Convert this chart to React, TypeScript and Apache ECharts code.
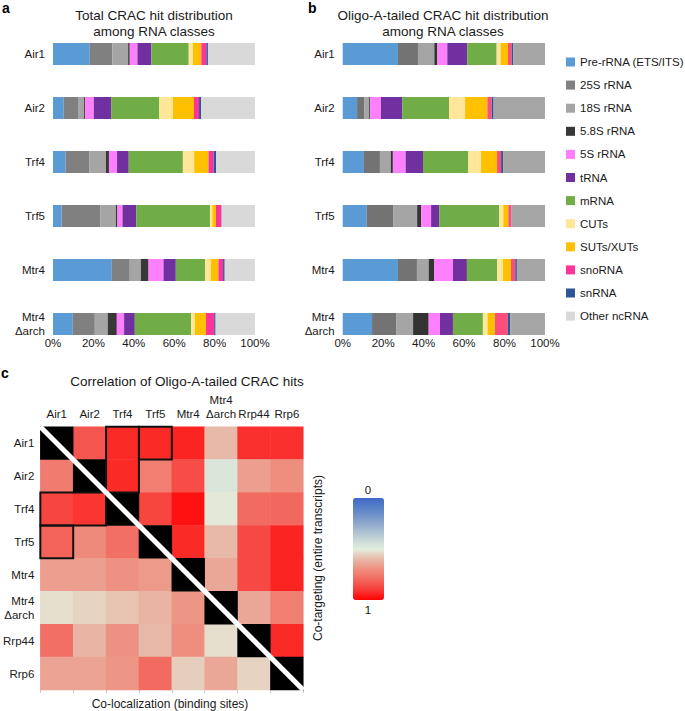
import React, { useEffect, useRef } from "react";
import * as echarts from "echarts";

const FONT = "'Liberation Sans', Arial, Helvetica, sans-serif";

const SAMPLES = ["Air1", "Air2", "Trf4", "Trf5", "Mtr4", "Mtr4\nΔarch"];
const RNA_CLASSES = [
  "Pre-rRNA (ETS/ITS)", "25S rRNA", "18S rRNA", "5.8S rRNA", "5S rRNA", "tRNA",
  "mRNA", "CUTs", "SUTs/XUTs", "snoRNA", "snRNA", "Other ncRNA",
];
const COLORS_A = ["#5B9BD5", "#808080", "#A5A5A5", "#383838", "#FF80FF", "#7030A0", "#70AD47", "#FFE699", "#FFC000", "#FF3399", "#2F5597", "#D9D9D9"];
const COLORS_B = ["#5B9BD5", "#737373", "#A5A5A5", "#333333", "#FF80FF", "#7030A0", "#70AD47", "#FFE699", "#FFC000", "#FF4D7A", "#2F5597", "#A6A6A6"];

// Panel a: total CRAC hit distribution (%), in RNA_CLASSES order
const totalAir1 = [18.2, 11.2, 7.8, 0.8, 3.8, 6.9, 18.5, 2.1, 4.1, 2.5, 0.8, 23.3];
const totalAir2 = [5.3, 7.1, 3.0, 0.5, 4.3, 8.6, 23.8, 6.8, 10.4, 2.5, 1.0, 26.7];
const totalTrf4 = [6.3, 11.6, 8.3, 1.5, 4.0, 5.8, 26.8, 5.6, 7.1, 2.5, 1.2, 19.3];
const totalTrf5 = [4.3, 19.2, 7.6, 0.8, 2.5, 6.8, 36.5, 1.2, 1.8, 2.6, 0.2, 16.5];
const totalMtr4 = [29.1, 8.9, 5.5, 3.8, 7.4, 6.1, 14.5, 2.8, 3.8, 2.3, 0.8, 15.0];
const totalMtr4Darch = [9.8, 10.9, 6.4, 4.5, 3.6, 5.3, 27.9, 1.8, 5.5, 4.1, 0.7, 19.5];

// Panel b: oligo-A-tailed CRAC hit distribution (%)
const oligoAir1 = [27.3, 9.9, 8.1, 1.5, 4.9, 9.9, 14.5, 2.0, 3.6, 1.8, 0.8, 15.7];
const oligoAir2 = [7.1, 3.5, 2.5, 0.5, 5.3, 10.5, 23.2, 7.9, 11.0, 2.1, 1.0, 25.4];
const oligoTrf4 = [10.5, 7.9, 5.4, 1.0, 6.3, 8.6, 22.4, 6.3, 7.9, 2.0, 1.0, 20.7];
const oligoTrf5 = [11.9, 13.0, 11.9, 2.0, 4.9, 4.0, 29.7, 2.0, 2.5, 1.5, 0.1, 16.5];
const oligoMtr4 = [27.3, 9.4, 5.8, 2.8, 9.2, 6.9, 15.0, 2.8, 4.0, 2.1, 0.8, 13.9];
const oligoMtr4Darch = [14.5, 11.9, 8.4, 7.7, 5.6, 6.4, 14.8, 2.3, 3.6, 6.4, 1.2, 17.2];

const TOTAL_ROWS = [totalAir1, totalAir2, totalTrf4, totalTrf5, totalMtr4, totalMtr4Darch];
const OLIGO_ROWS = [oligoAir1, oligoAir2, oligoTrf4, oligoTrf5, oligoMtr4, oligoMtr4Darch];

// Panel c: correlation heatmap (null = diagonal)
const HM_LABELS = ["Air1", "Air2", "Trf4", "Trf5", "Mtr4", "Mtr4\nΔarch", "Rrp44", "Rrp6"];
const corrAir1 = [null, 0.84, 0.93, 0.93, 0.94, 0.6, 0.92, 0.92];
const corrAir2 = [0.75, null, 0.93, 0.74, 0.86, 0.47, 0.66, 0.7];
const corrTrf4 = [0.88, 0.91, null, 0.88, 0.97, 0.51, 0.79, 0.8];
const corrTrf5 = [0.81, 0.71, 0.78, null, 0.93, 0.6, 0.87, 0.94];
const corrMtr4 = [0.66, 0.66, 0.69, 0.67, null, 0.64, 0.87, 0.94];
const corrMtr4Darch = [0.53, 0.55, 0.58, 0.61, 0.68, null, 0.64, 0.74];
const corrRrp44 = [0.78, 0.61, 0.69, 0.6, 0.7, 0.53, null, 0.93];
const corrRrp6 = [0.65, 0.65, 0.68, 0.79, 0.56, 0.64, 0.55, null];
const CORR_ROWS = [corrAir1, corrAir2, corrTrf4, corrTrf5, corrMtr4, corrMtr4Darch, corrRrp44, corrRrp6];
// highlighted boxes: [colStart, rowStart, colEnd, rowEnd]
const HIGHLIGHT_BOXES = [[2, 0, 2, 1], [3, 0, 3, 0], [0, 2, 1, 2], [0, 3, 0, 3]];
const CMAP = ["#3F6AC6", "#5A82C8", "#7C9BCB", "#A0B7CF", "#C4D4D5", "#E3EEDC", "#E8B8A8", "#EE8E7E", "#F2675E", "#F83C38", "#FF0000"];

export default function App() {
  const ref = useRef<HTMLDivElement>(null);
  useEffect(() => {
    document.body.style.margin = "0";
    if (!ref.current) return;
    const chart = echarts.init(ref.current, undefined, { renderer: "svg" });

    const txt = { fontFamily: FONT, color: "#1a1a1a" };
    const barSeries: any[] = [];
    RNA_CLASSES.forEach((name, ci) => {
      barSeries.push({
        name, type: "bar", stack: "a", xAxisIndex: 0, yAxisIndex: 0, barWidth: 22,
        itemStyle: { color: COLORS_A[ci] },
        data: TOTAL_ROWS.map((r) => r[ci]),
      });
    });
    RNA_CLASSES.forEach((name, ci) => {
      barSeries.push({
        name, type: "bar", stack: "b", xAxisIndex: 1, yAxisIndex: 1, barWidth: 22,
        itemStyle: { color: COLORS_B[ci] },
        data: OLIGO_ROWS.map((r) => r[ci]),
      });
    });

    const hmData: any[] = [];
    const diagData: any[] = [];
    CORR_ROWS.forEach((row, y) =>
      row.forEach((v, x) => {
        if (v === null) diagData.push([x, y, 1]);
        else hmData.push([x, y, v]);
      })
    );

    const pctAxis = (gi: number) => ({
      gridIndex: gi, type: "value", min: 0, max: 100, interval: 20, offset: -22,
      axisLine: { show: false }, axisTick: { show: false }, splitLine: { show: false },
      axisLabel: { formatter: "{value}%", fontSize: 11.5, margin: 8, ...txt },
    });
    const sampleAxis = (gi: number) => ({
      gridIndex: gi, type: "category", data: SAMPLES, inverse: true,
      axisLine: { show: false }, axisTick: { show: false },
      axisLabel: { fontSize: 11.5, margin: 8, lineHeight: 14, interval: 0, ...txt },
    });

    const hmIndex = barSeries.length;

    chart.setOption({
      animation: false,
      textStyle: { fontFamily: FONT },
      grid: [
        { left: 53, top: 27, width: 202, height: 324 },
        { left: 342.7, top: 27, width: 202.3, height: 324 },
        { left: 36.7, top: 426.7, width: 266.6, height: 263.3 },
      ],
      legend: {
        data: RNA_CLASSES, orient: "vertical", left: 566, top: 56, padding: 0,
        icon: "rect", itemWidth: 9, itemHeight: 9, itemGap: 11.1, selectedMode: false,
        textStyle: { fontSize: 11.5, lineHeight: 12, ...txt, padding: [0, 0, 0, 0] },
      },
      xAxis: [
        pctAxis(0),
        pctAxis(1),
        {
          gridIndex: 2, type: "category", data: HM_LABELS, position: "top",
          axisLine: { show: false }, axisTick: { show: false },
          axisLabel: { fontSize: 11.5, margin: 6, lineHeight: 14, interval: 0, ...txt },
        },
        {
          gridIndex: 2, type: "category", data: HM_LABELS, position: "bottom",
          axisLine: { show: false }, axisLabel: { show: false },
          axisTick: { show: true, length: 3, interval: 0, lineStyle: { color: "#c8c8c8" } },
        },
      ],
      yAxis: [
        sampleAxis(0),
        sampleAxis(1),
        {
          gridIndex: 2, type: "category", data: HM_LABELS, inverse: true,
          axisLine: { show: false }, axisTick: { show: false },
          axisLabel: { fontSize: 11.5, margin: 6, lineHeight: 14, interval: 0, ...txt },
        },
      ],
      visualMap: [
        {
          type: "continuous", min: 0, max: 1, seriesIndex: hmIndex, inverse: true,
          orient: "vertical", left: 353, top: 498, itemWidth: 31, itemHeight: 102,
          padding: 0, calculable: false, hoverLink: false,
          inRange: { color: CMAP },
        },
        {
          type: "continuous", min: 0, max: 1, seriesIndex: hmIndex + 1, show: false,
          inRange: { color: ["#000000", "#000000"] },
        },
      ],
      series: [
        ...barSeries,
        {
          type: "heatmap", xAxisIndex: 2, yAxisIndex: 2, data: hmData,
          emphasis: { disabled: true },
        },
        {
          type: "heatmap", xAxisIndex: 2, yAxisIndex: 2, data: diagData,
          emphasis: { disabled: true },
        },
        {
          type: "custom", xAxisIndex: 2, yAxisIndex: 2, clip: false, z: 5,
          data: HIGHLIGHT_BOXES,
          renderItem: (_p: any, api: any) => {
            const c0 = api.coord([api.value(0), api.value(1)]);
            const c1 = api.coord([api.value(2), api.value(3)]);
            const s = api.size([1, 1]);
            const x0 = Math.min(c0[0], c1[0]) - s[0] / 2;
            const y0 = Math.min(c0[1], c1[1]) - s[1] / 2;
            const x1 = Math.max(c0[0], c1[0]) + s[0] / 2;
            const y1 = Math.max(c0[1], c1[1]) + s[1] / 2;
            return {
              type: "rect",
              shape: { x: x0, y: y0, width: x1 - x0, height: y1 - y0 },
              style: { fill: "none", stroke: "#111", lineWidth: 2 },
            };
          },
        },
        {
          type: "custom", xAxisIndex: 2, yAxisIndex: 2, clip: false, z: 6,
          data: [[0, 0, HM_LABELS.length - 1, HM_LABELS.length - 1]],
          renderItem: (_p: any, api: any) => {
            const c0 = api.coord([api.value(0), api.value(1)]);
            const c1 = api.coord([api.value(2), api.value(3)]);
            const s = api.size([1, 1]);
            return {
              type: "line",
              shape: { x1: c0[0] - s[0] / 2, y1: c0[1] - s[1] / 2, x2: c1[0] + s[0] / 2, y2: c1[1] + s[1] / 2 },
              style: { stroke: "#fff", lineWidth: 5 },
            };
          },
        },
      ],
      graphic: [
        { type: "text", left: 2, top: 1, style: { text: "a", font: `bold 14px ${FONT}`, fill: "#000" } },
        { type: "text", left: 308, top: 1, style: { text: "b", font: `bold 14px ${FONT}`, fill: "#000" } },
        { type: "text", left: 1, top: 366, style: { text: "c", font: `bold 14px ${FONT}`, fill: "#000" } },
        {
          type: "text", x: 154, y: 23,
          style: { text: "Total CRAC hit distribution\namong RNA classes", font: `13.5px ${FONT}`, fill: "#1a1a1a", align: "center", verticalAlign: "middle", lineHeight: 16 },
        },
        {
          type: "text", x: 443, y: 23,
          style: { text: "Oligo-A-tailed CRAC hit distribution\namong RNA classes", font: `13.5px ${FONT}`, fill: "#1a1a1a", align: "center", verticalAlign: "middle", lineHeight: 16 },
        },
        {
          type: "text", x: 187, y: 381,
          style: { text: "Correlation of Oligo-A-tailed CRAC hits", font: `13.5px ${FONT}`, fill: "#1a1a1a", align: "center", verticalAlign: "middle" },
        },
        {
          type: "text", x: 170, y: 704,
          style: { text: "Co-localization (binding sites)", font: `12px ${FONT}`, fill: "#1a1a1a", align: "center", verticalAlign: "middle" },
        },
        {
          type: "text", x: 318, y: 558, rotation: Math.PI / 2,
          style: { text: "Co-targeting (entire transcripts)", font: `12px ${FONT}`, fill: "#1a1a1a", align: "center", verticalAlign: "middle" },
        },
        { type: "text", x: 368, y: 490, style: { text: "0", font: `11.5px ${FONT}`, fill: "#1a1a1a", align: "center", verticalAlign: "middle" } },
        { type: "text", x: 368, y: 610, style: { text: "1", font: `11.5px ${FONT}`, fill: "#1a1a1a", align: "center", verticalAlign: "middle" } },
      ],
    });
    return () => chart.dispose();
  }, []);
  return <div ref={ref} style={{ width: 685, height: 711 }} />;
}
